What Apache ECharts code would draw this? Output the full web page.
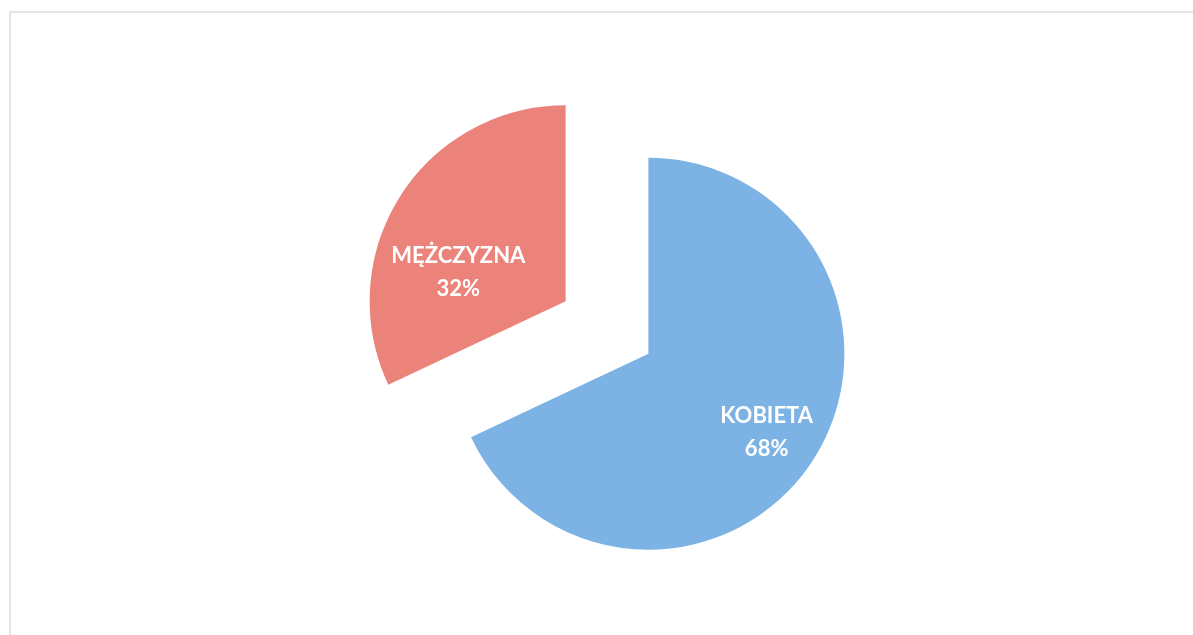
<!DOCTYPE html>
<html>
<head>
<meta charset="utf-8">
<script src="https://cdn.jsdelivr.net/npm/echarts@6/dist/echarts.min.js"></script>
<style>
  html, body { margin: 0; padding: 0; background: #ffffff; }
  #frame { position: absolute; left: 9px; top: 11px; width: 1184px; height: 624px;
           border-left: 2px solid #e4e4e4; border-top: 2px solid #e6e6e6; }
  #chart { position: absolute; left: 0; top: 0; width: 1193px; height: 635px; }
</style>
</head>
<body>
<div id="frame"></div>
<div id="chart"></div>
<script>
const categories = ['KOBIETA', 'MĘŻCZYZNA'];
const percents = [68, 32];
const colors = ['#7CB3E4', '#EB837A'];
const labelShift = [[33, 25], [-22, 25]];

const chart = echarts.init(document.getElementById('chart'), null, { renderer: 'canvas' });
chart.setOption({
  backgroundColor: 'transparent',
  animation: false,
  series: [{
    type: 'pie',
    center: [607, 327.5],
    radius: [0, 196],
    startAngle: 90,
    clockwise: true,
    selectedMode: 'multiple',
    selectedOffset: 49,
    avoidLabelOverlap: false,
    emphasis: { disabled: true },
    label: {
      show: true,
      position: 'inside',
      formatter: '{b}\n{c}%',
      color: '#ffffff',
      fontFamily: 'Lato',
      fontWeight: 'bold',
      fontSize: 22,
      lineHeight: 33,
      align: 'center'
    },
    labelLine: { show: false },
    labelLayout: function (params) {
      const s = labelShift[params.dataIndex];
      return { dx: s[0], dy: s[1] };
    },
    data: categories.map((name, i) => ({
      name: name,
      value: percents[i],
      selected: true,
      itemStyle: { color: colors[i], borderWidth: 0 },
      select: { itemStyle: { color: colors[i] } }
    }))
  }]
});
</script>
</body>
</html>
